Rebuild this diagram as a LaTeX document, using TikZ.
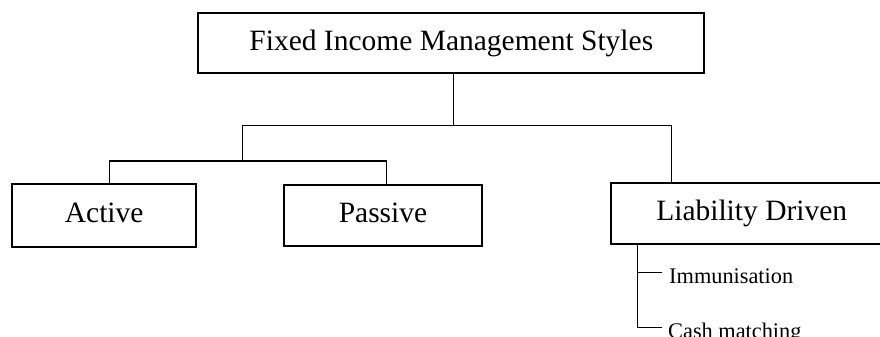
\documentclass[tikz,border=0pt]{standalone}
\usepackage{fontspec}
\setmainfont{Liberation Serif}
\usetikzlibrary{positioning}

\begin{document}
\begin{tikzpicture}[
 x=1bp,y=-1bp,
 b/.style={draw,line width=1.9bp,inner sep=0pt,align=center,text height=20.5bp,text depth=6.5bp,font=\fontsize{29.6pt}{32pt}\selectfont},
 lk/.style={line width=1.5bp},
 sub/.style={inner sep=0pt,anchor=base west,font=\fontsize{22.4pt}{26pt}\selectfont}
]
\useasboundingbox (0,0) rectangle (880,336);
\node[b,minimum width=506bp,minimum height=59.4bp] (top) at (451.3,43) {Fixed Income Management Styles};
\node[b,minimum width=183.7bp,minimum height=62.4bp] (active) at (104.2,215.5) {Active};
\node[b,right=86.3bp of active,minimum width=197.5bp,minimum height=61bp] (passive) {Passive};
\node[b,minimum width=282bp,minimum height=60.7bp] (liability) at (751.7,213.7) {Liability Driven};
% sub items of liability driven
\node[sub] (imm) at (669,283.3) {Immunisation};
\node[sub] (cash) at (668,338.3) {Cash matching};
% junctions
\coordinate (mid) at (453.5,125.7);
\coordinate (left) at (242.4,161);
\coordinate (spine) at ([xshift=-114bp]liability.south);
\coordinate (immtip) at ([xshift=-7bp,yshift=11bp]imm.base west);
\coordinate (cashtip) at ([xshift=-6bp,yshift=11bp]cash.base west);
\draw[lk] (top.south -| mid) -- (mid);
\draw[lk] (left) |- (mid) -| ([xshift=-80bp]liability.north);
\draw[lk] ([xshift=5.2bp]active.north) |- (left) -| ([xshift=3.4bp]passive.north);
\draw[lk] (spine) |- (cashtip);
\draw[lk] (immtip) -- (immtip -| spine);
\end{tikzpicture}
\end{document}
